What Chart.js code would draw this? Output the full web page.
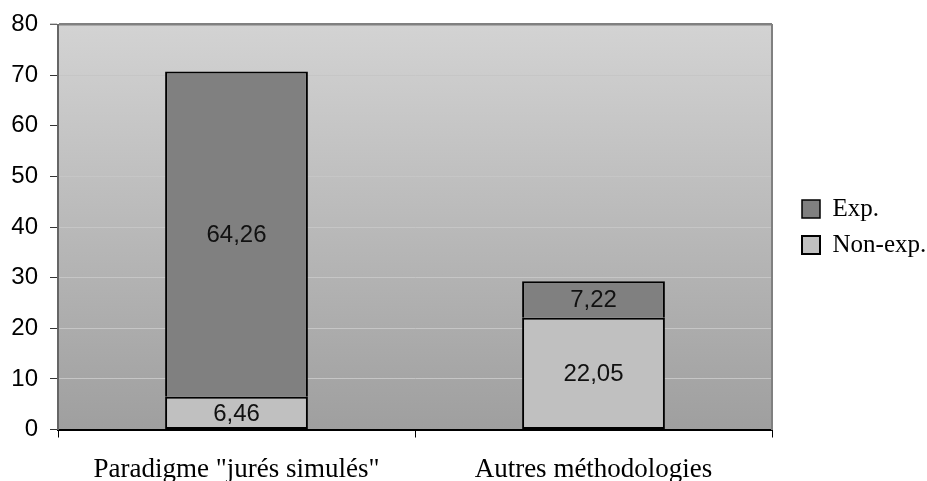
<!DOCTYPE html>
<html>
<head>
<meta charset="utf-8">
<script src="https://cdn.jsdelivr.net/npm/chart.js@4/dist/chart.umd.min.js"></script>
<style>
html,body{margin:0;padding:0;background:#fff;}
#c{display:block;}
</style>
</head>
<body>
<canvas id="c" width="927" height="481"></canvas>
<script>
const categories = ['Paradigme "jurés simulés"', 'Autres méthodologies'];
const nonExpValues = [6.46, 22.05];
const expValues = [64.26, 7.22];
const seriesNames = ['Non-exp.', 'Exp.'];
const yTicks = [0, 10, 20, 30, 40, 50, 60, 70, 80];

const bgPlugin = {
  id: 'bgGradient',
  beforeDraw(chart) {
    const {ctx, chartArea: a} = chart;
    const g = ctx.createLinearGradient(0, a.top, 0, a.bottom);
    g.addColorStop(0, '#d3d3d3');
    g.addColorStop(1, '#9f9f9f');
    ctx.save();
    ctx.fillStyle = g;
    ctx.fillRect(a.left, a.top, a.right - a.left, a.bottom - a.top);
    ctx.restore();
  }
};

const labelPlugin = {
  id: 'valueLabels',
  afterDatasetsDraw(chart) {
    const {ctx} = chart;
    ctx.save();
    ctx.font = '24px "Liberation Sans", Arial, sans-serif';
    ctx.fillStyle = '#111';
    ctx.textAlign = 'center';
    ctx.textBaseline = 'middle';
    chart.data.datasets.forEach((ds, di) => {
      const meta = chart.getDatasetMeta(di);
      meta.data.forEach((el, i) => {
        const v = ds.data[i];
        const p = el.getProps(['x', 'y', 'base'], true);
        ctx.fillText(v.toFixed(2).replace('.', ','), p.x, (p.y + p.base) / 2 + 1);
      });
    });
    ctx.restore();
  }
};

new Chart(document.getElementById('c'), {
  type: 'bar',
  data: {
    labels: categories,
    datasets: [
      {label: seriesNames[0], data: nonExpValues, backgroundColor: '#c0c0c0', borderColor: '#000', borderWidth: 2, borderSkipped: false},
      {label: seriesNames[1], data: expValues, backgroundColor: '#808080', borderColor: '#000', borderWidth: {top: 2, left: 2, right: 2, bottom: 0}, borderSkipped: false}
    ]
  },
  options: {
    responsive: false,
    animation: false,
    events: [],
    layout: {padding: {top: 24.5, left: 0, right: 0, bottom: 0}},
    datasets: {bar: {categoryPercentage: 1.0, barPercentage: 0.4}},
    plugins: {
      tooltip: {enabled: false},
      legend: {
        position: 'right',
        fullSize: false,
        reverse: true,
        maxWidth: 136,
        labels: {
          boxWidth: 18,
          boxHeight: 18,
          padding: 11,
          color: '#000',
          font: {family: '"Liberation Serif", "Times New Roman", serif', size: 25}
        }
      }
    },
    scales: {
      x: {
        stacked: true,
        afterFit(s) { s.height = 51.5; },
        grid: {display: true, drawOnChartArea: false, offset: true, tickLength: 8, tickColor: '#000', tickWidth: 1},
        border: {display: true, color: '#000', width: 2},
        ticks: {color: '#000', padding: 16, maxRotation: 0, font: {family: '"Liberation Serif", "Times New Roman", serif', size: 27}}
      },
      y: {
        stacked: true,
        min: 0,
        max: 80,
        afterFit(s) { s.width = 58; },
        afterBuildTicks(s) { s.ticks = yTicks.map(v => ({value: v})); },
        grid: {
          color: (c) => c.tick && c.tick.value === 80 ? '#808080' : '#c6c6c6',
          lineWidth: (c) => c.tick && c.tick.value === 80 ? 2.5 : 1,
          tickLength: 8,
          tickColor: '#333',
          tickWidth: 1
        },
        border: {display: true, color: '#666', width: 2},
        ticks: {color: '#000', padding: 12, font: {family: '"Liberation Sans", Arial, sans-serif', size: 24, lineHeight: 0.8}}
      },
      y2: {
        position: 'right',
        min: 0,
        max: 80,
        afterFit(s) { s.width = 19; },
        grid: {display: false, drawTicks: false},
        border: {display: true, color: '#808080', width: 2},
        ticks: {display: false}
      }
    }
  },
  plugins: [bgPlugin, labelPlugin]
});
</script>
</body>
</html>
